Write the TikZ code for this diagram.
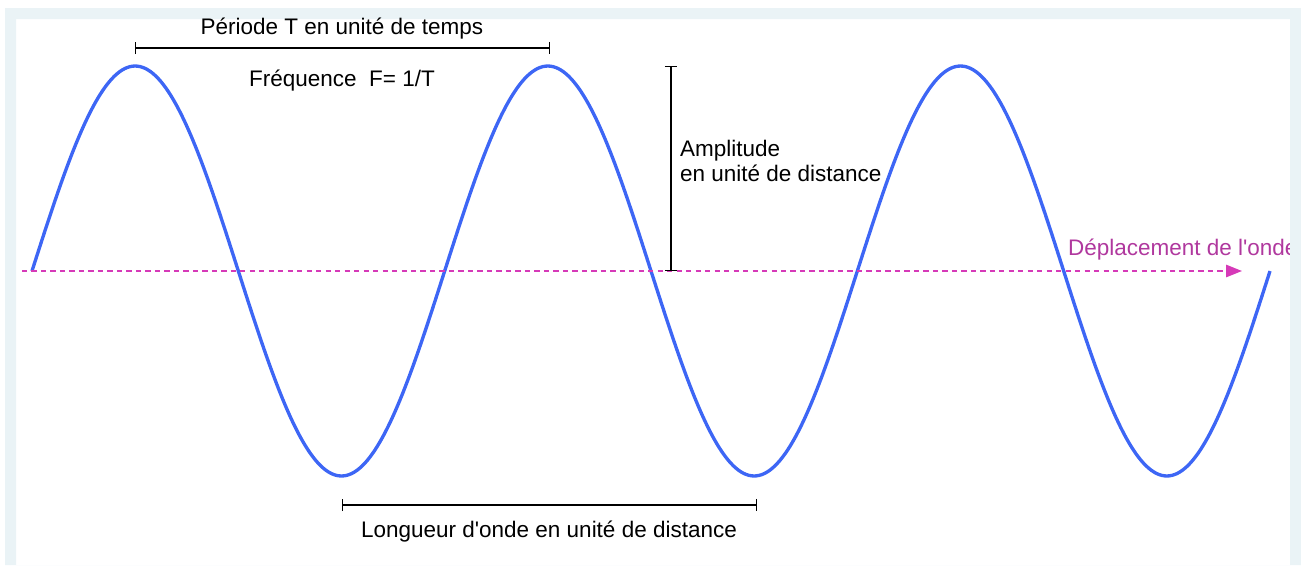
\documentclass[tikz,border=0pt]{standalone}
\usepackage{fontspec}
\setmainfont{Liberation Sans}[Ligatures=TeXOff]
\usepackage{tikz}
\usetikzlibrary{
  arrows.meta,
  positioning,
}
\definecolor{wavblue}{HTML}{3D66F5}
\definecolor{dirpink}{HTML}{D63AB8}
\definecolor{dirtext}{HTML}{B0389E}
\definecolor{framebg}{HTML}{EAF3F6}

\begin{document}
\begin{tikzpicture}[
    x=0.02cm, y=-0.02cm,
    wave/.style={draw=wavblue, line width=1.9pt, line join=round},
    measure/.style={draw=black, line width=0.7pt,
                    {Bar[width=7pt]}-{Bar[width=7pt]}},
    lbl/.style={font=\fontsize{12.8}{14.7}\selectfont, inner sep=1pt},
  ]
  \useasboundingbox (0,0) rectangle (1301,565);

  % frame
  \fill[framebg, even odd rule] (5,8) rectangle (1301,565)
    (16,19) rectangle (1290,565);

  % sine wave, three periods
  \draw[wave] plot[domain=32:1270, samples=241, smooth]
    (\x, {271-205*sin((\x-32)/412.67*360)});

  % direction of travel
  \coordinate (dstart) at (22,271);
  \coordinate (dend)   at (1242,271);
  \draw[dirpink, line width=0.8pt, dash pattern=on 3pt off 2.4pt,
        -{Triangle[length=9pt, width=7pt]}] (dstart) -- (dend);
  \node[lbl, text=dirtext, anchor=west] (deplace) at (1066,250)
    {Déplacement de l'onde};

  % period
  \coordinate (p1) at (135,48);
  \coordinate (p2) at (550,48);
  \draw[measure] (p1) -- (p2);
  \node[lbl] (periode) at (342,29) {Période T en unité de temps};
  \node[lbl] (freq) at (342,81) {Fréquence\ \ F= 1/T};

  % amplitude
  \coordinate (a1) at (671,66);
  \coordinate (a2) at (671,271);
  \draw[measure] (a1) -- (a2);
  \node[lbl, align=left, anchor=west] (ampli) at (678,161)
    {Amplitude\\en unité de distance};

  % wavelength
  \coordinate (l1) at (342,505);
  \coordinate (l2) at (757,505);
  \draw[measure] (l1) -- (l2);
  \node[lbl] (longueur) at (549,532) {Longueur d'onde en unité de distance};

  % right edge of frame cuts the label
  \fill[framebg] (1290,8) rectangle (1301,565);
\end{tikzpicture}
\end{document}
